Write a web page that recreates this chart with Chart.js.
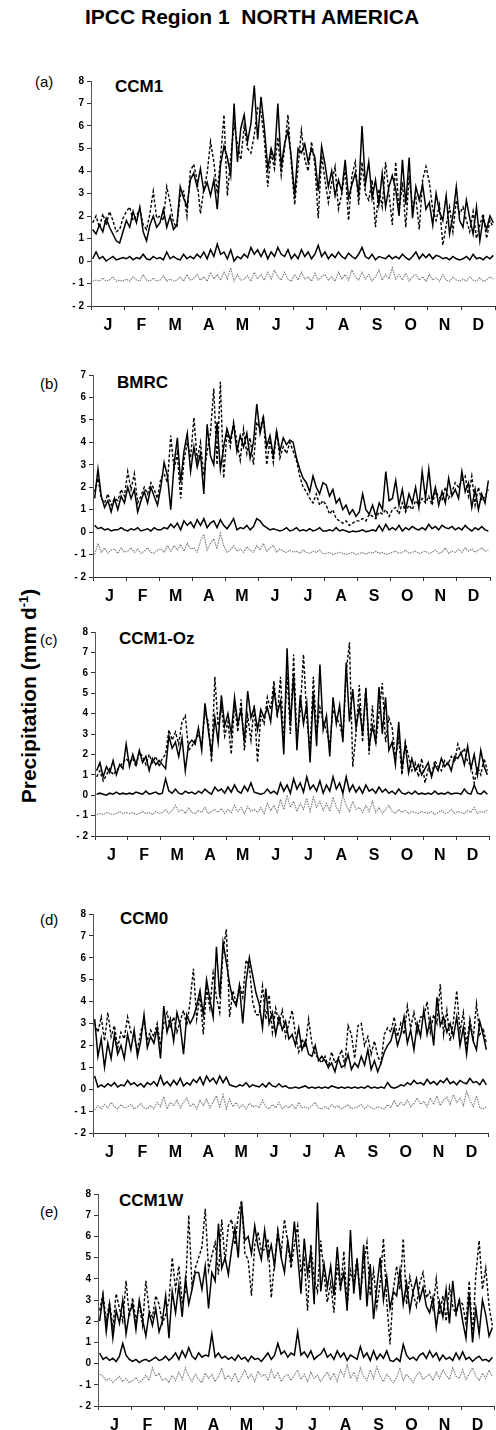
<!DOCTYPE html>
<html>
<head>
<meta charset="utf-8">
<script src="https://cdn.jsdelivr.net/npm/chart.js@4.4.1/dist/chart.umd.min.js"></script>
<style>
body{margin:0;background:#fff;width:496px;height:1430px;position:relative;overflow:hidden;font-family:"Liberation Sans",Arial,sans-serif;}
.t{position:absolute;white-space:nowrap;color:#000;line-height:1;}
.lt{font-size:15px;}
.nm{font-size:17px;font-weight:bold;}
#title{left:85px;top:6px;font-size:21px;font-weight:bold;}
#ytitle{left:-97px;top:685px;width:250px;text-align:center;font-size:21px;font-weight:bold;transform:rotate(-90deg);}
#ytitle sup{font-size:13px;}
canvas{position:absolute;}
</style>
</head>
<body>
<div class="t" id="title">IPCC Region 1&nbsp; NORTH AMERICA</div>
<div class="t" id="ytitle">Precipitation (mm d<sup>-1</sup>)</div>

<div class="t lt" style="left:35px;top:74px">(a)</div>
<div class="t nm" style="left:115px;top:78px">CCM1</div>
<div class="t lt" style="left:40px;top:376px">(b)</div>
<div class="t nm" style="left:117px;top:374px">BMRC</div>
<div class="t lt" style="left:40px;top:632px">(c)</div>
<div class="t nm" style="left:119px;top:630px">CCM1-Oz</div>
<div class="t lt" style="left:40px;top:912px">(d)</div>
<div class="t nm" style="left:120px;top:910px">CCM0</div>
<div class="t lt" style="left:40px;top:1204px">(e)</div>
<div class="t nm" style="left:119px;top:1192px">CCM1W</div>

<canvas id="pa"></canvas>
<canvas id="pb"></canvas>
<canvas id="pc"></canvas>
<canvas id="pd"></canvas>
<canvas id="pe"></canvas>

<script>
// month labels, 10 readings per month (every ~3 days)
var months = ['J','F','M','A','M','J','J','A','S','O','N','D'];
var perMonth = 10;

// (a) CCM1
var ccm1Solid = [
 1.4,1.2,1.6,1.3,1.9,1.5,1.2,0.9,0.8,1.3,
 1.8,1.5,2.2,1.7,2.4,1.3,0.9,1.6,2.0,1.5,
 1.7,2.3,1.5,2.0,1.4,1.6,3.3,2.8,2.4,3.6,
 3.9,3.3,4.1,3.1,3.5,2.9,3.6,2.3,4.3,5.1,
 4.6,3.8,7.0,4.4,5.9,6.5,5.3,6.1,7.8,5.4,
 7.3,5.9,4.1,5.0,4.5,7.0,4.2,5.2,5.8,4.6,
 2.9,5.0,4.8,5.2,4.4,5.0,4.6,3.1,5.1,4.3,
 3.3,4.0,2.9,3.6,3.1,4.5,2.8,3.4,3.9,3.0,
 6.0,3.4,4.4,2.8,3.6,2.5,3.9,2.4,3.3,3.8,
 3.2,2.0,4.5,2.5,4.6,1.9,3.3,2.7,3.4,2.3,
 2.6,1.6,3.0,2.2,1.8,2.9,1.2,2.0,3.3,1.8,
 1.5,2.7,1.9,1.2,2.4,0.9,1.9,1.4,2.0,1.7];
var ccm1Dashed = [
 1.7,2.0,1.5,2.1,1.6,2.2,1.8,1.3,1.4,1.9,
 2.2,2.4,1.8,2.0,2.3,1.6,1.4,2.1,3.1,1.9,
 2.0,1.8,3.3,2.6,1.7,1.5,2.9,3.1,2.0,4.0,
 4.3,3.6,2.1,3.2,3.9,5.3,4.4,3.0,4.6,6.5,
 2.9,4.6,6.1,5.2,4.5,6.0,5.0,4.8,5.6,6.8,
 6.6,5.4,3.3,4.8,4.1,5.5,3.8,5.0,6.5,4.3,
 2.5,4.2,5.8,4.5,4.0,5.3,4.3,1.9,4.7,3.6,
 2.6,3.5,4.2,2.3,3.0,4.1,1.8,3.8,4.4,2.5,
 4.4,3.0,2.7,3.6,1.5,3.2,2.4,4.4,3.0,1.6,
 4.4,2.2,3.5,1.5,3.8,2.4,2.8,1.4,3.6,4.2,
 3.5,2.3,1.8,2.5,0.7,1.6,2.4,1.3,2.7,2.1,
 2.4,1.8,1.3,2.2,1.0,1.6,2.1,1.0,1.8,1.5];
var ccm1Low = [
 0.1,0.4,0.1,0.2,0.0,0.1,0.2,0.05,0.1,0.15,
 0.1,0.2,0.05,0.15,0.1,0.3,0.1,0.05,0.2,0.1,
 0.15,0.05,0.4,0.1,0.2,0.1,0.05,0.3,0.1,0.2,
 0.1,0.3,0.15,0.4,0.1,0.5,0.2,0.75,0.3,0.4,
 0.1,0.5,0.0,0.2,0.1,0.3,0.15,0.6,0.3,0.5,
 0.2,0.5,0.1,0.4,0.2,0.6,0.3,0.2,0.5,0.1,
 0.3,0.1,0.5,0.2,0.4,0.1,0.3,0.7,0.2,0.4,
 0.1,0.3,0.15,0.4,0.2,0.1,0.35,0.2,0.1,0.3,
 0.6,0.2,0.1,0.3,0.05,0.2,0.15,0.1,0.25,0.1,
 0.2,0.1,0.3,0.15,0.05,0.2,0.4,0.1,0.3,0.15,
 0.3,0.1,0.25,0.2,0.1,0.15,0.05,0.2,0.1,0.05,
 0.1,0.2,0.05,0.3,0.1,0.15,0.05,0.2,0.1,0.25];
var ccm1Gray = [
 -0.9,-0.85,-0.9,-0.75,-0.9,-0.85,-0.7,-0.9,-0.85,-0.9,
 -0.8,-0.9,-0.7,-0.85,-0.9,-0.6,-0.85,-0.9,-0.75,-0.9,
 -0.85,-0.65,-0.9,-0.8,-0.9,-0.85,-0.7,-0.9,-0.6,-0.85,
 -0.8,-0.6,-0.85,-0.7,-0.9,-0.5,-0.8,-0.6,-0.85,-0.5,
 -0.8,-0.3,-0.9,-0.6,-0.85,-0.8,-0.65,-0.9,-0.5,-0.8,
 -0.6,-0.85,-0.5,-0.8,-0.4,-0.7,-0.85,-0.5,-0.8,-0.9,
 -0.6,-0.85,-0.5,-0.8,-0.7,-0.9,-0.55,-0.85,-0.7,-0.6,
 -0.85,-0.7,-0.9,-0.5,-0.8,-0.6,-0.85,-0.4,-0.7,-0.85,
 -0.5,-0.8,-0.6,-0.9,-0.7,-0.4,-0.85,-0.6,-0.8,-0.3,
 -0.8,-0.6,-0.85,-0.55,-0.9,-0.7,-0.6,-0.85,-0.7,-0.9,
 -0.6,-0.85,-0.75,-0.9,-0.6,-0.85,-0.9,-0.7,-0.85,-0.9,
 -0.8,-0.9,-0.7,-0.85,-0.9,-0.75,-0.9,-0.85,-0.7,-0.8];

// (b) BMRC
var bmrcSolid = [
 1.5,2.8,1.6,1.1,1.4,0.9,1.5,1.0,1.6,1.3,
 2.0,1.5,1.9,0.9,1.4,1.8,1.3,2.0,1.6,1.2,
 2.0,3.1,2.5,1.0,3.0,4.2,2.2,3.6,4.4,2.7,
 3.8,2.9,3.5,1.7,4.8,3.4,3.0,4.9,2.8,3.8,
 4.6,4.1,4.8,3.6,4.3,3.8,4.4,3.3,4.0,5.7,
 4.4,5.1,3.8,4.3,3.4,4.5,3.6,4.2,3.9,4.1,
 4.0,3.3,2.8,2.4,2.2,1.8,2.5,2.0,1.7,2.2,
 2.1,1.6,1.9,1.3,1.5,1.0,1.2,0.8,1.0,0.7,
 0.9,1.7,1.0,0.8,1.2,0.7,1.3,1.0,2.7,1.4,
 1.5,2.3,1.2,1.9,1.0,1.7,1.3,2.0,1.1,2.7,
 1.5,2.8,1.4,2.0,1.2,1.8,1.3,2.4,1.6,1.9,
 1.5,2.7,1.8,2.2,1.1,1.9,1.0,1.7,1.3,2.3];
var bmrcDashed = [
 1.8,2.4,1.5,1.3,1.7,1.2,1.5,1.4,1.9,1.6,
 2.7,1.9,2.6,1.3,1.6,2.0,1.7,2.2,1.9,1.5,
 2.4,2.6,2.2,4.3,2.8,3.5,1.5,3.2,4.0,3.3,
 5.1,3.2,4.0,2.5,3.6,4.4,6.4,3.0,6.7,2.4,
 4.5,3.8,4.9,4.0,3.2,4.6,3.5,4.2,3.0,4.9,
 4.6,5.2,3.0,4.1,3.1,4.5,3.3,3.8,3.5,4.0,
 3.6,3.2,2.5,2.0,1.8,1.5,1.3,1.7,1.2,1.4,
 1.2,0.8,1.0,0.6,0.5,0.4,0.5,0.3,0.4,0.5,
 0.5,0.6,0.5,0.8,0.7,0.6,0.9,0.8,1.0,0.7,
 1.0,1.1,0.8,1.3,0.9,1.2,1.0,1.4,1.2,1.5,
 1.3,1.6,1.2,1.8,1.6,1.4,2.0,1.5,1.8,2.2,
 2.0,2.3,2.5,1.6,2.5,1.2,2.0,1.4,1.6,1.9];
var bmrcLow = [
 0.3,0.15,0.2,0.1,0.15,0.05,0.1,0.1,0.2,0.1,
 0.05,0.15,0.1,0.2,0.05,0.1,0.15,0.05,0.2,0.1,
 0.1,0.2,0.15,0.35,0.2,0.4,0.1,0.5,0.3,0.45,
 0.2,0.55,0.3,0.6,0.2,0.4,0.5,0.2,0.55,0.3,
 0.15,0.35,0.6,0.1,0.2,0.15,0.3,0.1,0.25,0.6,
 0.5,0.3,0.2,0.1,0.15,0.1,0.05,0.1,0.2,0.05,
 0.1,0.2,0.05,0.1,0.05,0.15,0.05,0.1,0.2,0.05,
 0.05,0.1,0.05,0.2,0.05,0.1,0.05,0.0,0.05,0.02,
 0.05,0.1,0.02,0.05,0.1,0.05,0.3,0.05,0.35,0.1,
 0.2,0.1,0.3,0.05,0.2,0.1,0.25,0.15,0.1,0.2,
 0.1,0.35,0.15,0.25,0.1,0.3,0.2,0.15,0.25,0.1,
 0.2,0.1,0.3,0.15,0.05,0.2,0.1,0.25,0.1,0.05];
var bmrcGray = [
 -1.0,-0.5,-0.9,-0.7,-0.95,-0.8,-0.75,-0.95,-0.7,-0.9,
 -0.85,-0.7,-0.9,-0.75,-0.95,-0.85,-0.7,-0.9,-0.95,-0.8,
 -0.75,-0.9,-0.6,-0.85,-0.6,-0.8,-0.55,-0.85,-0.5,-0.75,
 -0.7,-0.9,-0.4,-0.1,-0.8,-0.5,-0.3,-0.75,-0.05,-0.6,
 -0.9,-0.8,-0.6,-0.85,-0.75,-0.9,-0.65,-0.8,-0.9,-0.6,
 -0.8,-0.5,-0.85,-0.7,-0.6,-0.9,-0.75,-0.85,-0.9,-0.8,
 -0.9,-0.85,-0.95,-0.8,-0.9,-0.95,-0.85,-0.9,-0.8,-0.95,
 -0.95,-0.9,-1.0,-0.95,-0.9,-0.95,-1.0,-0.95,-0.9,-1.0,
 -0.95,-0.9,-1.0,-0.9,-0.95,-0.85,-0.95,-0.9,-1.0,-0.95,
 -0.9,-0.85,-0.95,-0.9,-0.8,-0.95,-0.9,-0.85,-0.95,-0.9,
 -0.85,-0.95,-0.9,-0.8,-0.95,-0.9,-0.7,-0.95,-0.85,-0.9,
 -0.75,-0.9,-0.7,-0.85,-0.75,-0.9,-0.8,-0.7,-0.85,-0.8];

// (c) CCM1-Oz
var ozSolid = [
 1.2,1.6,0.9,1.4,1.1,1.7,1.0,1.5,1.3,2.5,
 1.4,2.0,1.5,2.2,1.6,1.9,1.2,1.8,1.5,1.7,
 1.5,1.3,2.9,2.3,2.6,1.9,2.8,1.2,2.5,2.7,
 2.5,3.3,2.2,4.5,3.2,2.0,3.8,2.6,4.9,3.4,
 4.0,3.0,4.8,3.5,4.2,2.6,5.1,3.8,4.3,3.2,
 4.2,3.8,4.3,3.6,5.2,4.0,4.6,2.0,7.2,3.4,
 5.9,2.2,4.9,3.5,4.5,1.6,5.0,2.4,6.4,3.2,
 3.9,1.9,4.8,3.5,4.4,2.6,6.5,3.6,5.2,3.3,
 4.3,3.0,5.2,2.4,3.4,2.6,5.3,3.0,4.8,2.2,
 2.6,1.5,3.6,1.3,2.5,1.1,1.8,1.2,1.5,1.0,
 1.3,1.6,0.9,1.5,1.2,1.8,1.4,1.6,1.2,1.9,
 1.8,2.1,1.5,2.4,1.3,2.0,1.0,2.2,1.4,1.0];
var ozDashed = [
 0.9,1.2,0.7,1.0,1.3,1.0,1.2,1.4,1.6,1.8,
 1.6,1.8,1.4,2.1,1.9,1.5,2.0,1.6,1.9,1.4,
 1.8,2.0,3.2,2.7,3.1,2.5,3.6,3.9,2.2,2.4,
 2.7,3.0,2.5,4.1,3.6,1.6,5.8,3.4,4.3,2.9,
 3.6,2.0,4.5,3.1,4.7,2.2,3.9,2.7,4.4,1.6,
 3.9,3.5,4.8,4.2,5.6,3.8,5.8,2.6,6.0,3.0,
 6.9,2.7,4.1,6.9,3.8,2.1,5.8,3.0,4.3,3.6,
 3.2,2.5,4.2,3.8,3.5,2.8,6.0,7.5,1.4,3.0,
 5.4,2.6,5.3,2.0,4.4,2.5,4.0,5.5,2.6,3.8,
 3.3,1.8,2.8,1.0,2.6,1.9,1.2,1.6,0.9,1.8,
 0.6,1.3,1.0,1.7,1.4,1.2,1.7,1.5,1.9,1.6,
 2.5,2.0,2.3,1.6,1.5,0.6,1.4,1.0,1.8,1.2];
var ozLow = [
 0.05,0.1,0.05,0.0,0.1,0.05,0.15,0.05,0.1,0.05,
 0.1,0.05,0.15,0.1,0.05,0.2,0.05,0.1,0.15,0.05,
 0.1,0.8,0.2,0.1,0.3,0.1,0.05,0.2,0.1,0.15,
 0.05,0.2,0.1,0.3,0.15,0.05,0.4,0.2,0.3,0.1,
 0.4,0.15,0.5,0.2,0.1,0.45,0.2,0.6,0.15,0.1,
 0.05,0.1,0.3,0.1,0.2,0.05,0.6,0.2,0.5,0.1,
 0.8,0.3,0.6,0.15,0.9,0.3,0.5,0.2,0.7,0.1,
 0.5,0.2,0.9,0.3,0.6,0.1,0.9,0.2,0.5,0.15,
 0.4,0.1,0.5,0.2,0.3,0.1,0.4,0.15,0.3,0.1,
 0.2,0.05,0.3,0.1,0.05,0.15,0.05,0.2,0.05,0.1,
 0.05,0.1,0.05,0.2,0.05,0.1,0.05,0.15,0.05,0.1,
 0.1,0.05,0.3,0.1,0.05,0.5,0.1,0.05,0.2,0.05];
var ozGray = [
 -0.95,-0.9,-0.95,-0.85,-0.9,-0.95,-0.9,-0.8,-0.9,-0.85,
 -0.9,-0.85,-0.95,-0.9,-0.8,-0.9,-0.85,-0.95,-0.8,-0.9,
 -0.85,-0.7,-0.9,-0.75,-0.5,-0.8,-0.7,-0.9,-0.6,-0.85,
 -0.9,-0.75,-0.85,-0.6,-0.9,-0.8,-0.7,-0.85,-0.65,-0.9,
 -0.7,-0.85,-0.5,-0.8,-0.6,-0.9,-0.55,-0.8,-0.7,-0.85,
 -0.6,-0.9,-0.4,-0.75,-0.5,-0.85,-0.2,-0.7,0.0,-0.6,
 -0.3,-0.8,-0.4,-0.7,-0.15,-0.8,-0.1,-0.6,-0.3,-0.75,
 -0.4,-0.8,-0.1,-0.6,-0.85,0.0,-0.5,-0.8,-0.3,-0.7,
 -0.6,-0.85,-0.5,-0.8,-0.3,-0.85,-0.6,-0.9,-0.7,-0.5,
 -0.8,-0.9,-0.7,-0.85,-0.75,-0.9,-0.8,-0.85,-0.9,-0.8,
 -0.85,-0.9,-0.8,-0.95,-0.85,-0.75,-0.9,-0.85,-0.7,-0.9,
 -0.8,-0.85,-0.9,-0.75,-0.85,-0.6,-0.9,-0.8,-0.85,-0.7];

// (d) CCM0
var ccm0Solid = [
 3.2,1.5,2.3,1.0,2.1,1.4,2.5,1.6,2.0,1.4,
 2.5,1.8,2.7,1.5,2.2,3.4,1.9,2.4,2.1,2.8,
 1.4,3.8,2.6,3.2,2.2,3.5,2.9,1.6,3.4,3.0,
 3.3,3.8,4.5,3.4,5.0,4.1,3.3,6.5,4.2,6.7,
 5.8,4.8,4.1,3.8,4.7,3.0,4.9,6.0,5.2,4.4,
 3.9,2.8,4.6,3.0,3.5,2.5,3.3,2.7,3.1,2.3,
 2.5,2.0,2.8,1.8,2.2,1.6,1.5,2.0,1.3,1.5,
 1.3,1.0,1.2,0.8,1.4,1.0,1.1,1.6,0.9,1.2,
 1.0,1.5,1.1,1.8,0.9,1.3,0.8,1.2,1.7,2.0,
 2.2,2.8,2.0,2.5,3.3,2.1,2.7,1.8,3.0,2.4,
 3.6,2.5,3.2,2.0,4.2,2.9,3.3,2.6,3.0,2.4,
 3.3,2.0,2.8,1.6,3.0,2.2,1.8,3.1,2.5,1.8];
var ccm0Dashed = [
 3.0,2.6,3.3,2.2,3.5,2.4,2.9,1.9,2.6,2.3,
 3.3,2.6,2.4,1.8,2.6,3.2,2.2,2.7,2.4,3.0,
 2.0,3.0,3.5,2.8,3.3,2.6,3.1,3.6,2.9,4.0,
 5.5,3.2,4.3,2.5,4.6,3.7,5.3,4.2,3.5,6.3,
 7.3,3.3,4.5,3.9,4.8,4.2,5.9,5.6,4.0,3.4,
 3.4,4.7,3.2,4.3,2.6,3.7,3.0,3.6,2.4,3.0,
 3.6,2.5,1.7,2.3,1.9,3.2,2.1,1.6,1.4,1.2,
 1.5,1.0,1.7,1.2,1.4,1.8,1.1,2.9,2.5,1.4,
 2.9,3.0,2.0,2.4,1.6,2.2,1.5,1.2,2.5,2.8,
 2.6,3.3,2.4,3.0,2.5,3.8,2.8,3.5,2.6,3.3,
 3.3,4.0,2.6,3.4,3.0,4.8,2.5,3.6,2.2,3.1,
 4.5,2.6,3.5,2.0,3.2,2.3,3.9,2.5,2.8,2.1];
var ccm0Low = [
 0.6,0.1,0.2,0.1,0.25,0.15,0.3,0.1,0.2,0.15,
 0.4,0.2,0.3,0.15,0.25,0.1,0.3,0.2,0.35,0.15,
 0.6,0.2,0.35,0.15,0.4,0.2,0.5,0.15,0.3,0.2,
 0.45,0.3,0.55,0.2,0.6,0.35,0.5,0.25,0.6,0.3,
 0.55,0.2,0.15,0.1,0.2,0.15,0.3,0.1,0.2,0.15,
 0.1,0.25,0.1,0.3,0.15,0.1,0.25,0.1,0.15,0.05,
 0.05,0.1,0.05,0.1,0.15,0.05,0.1,0.05,0.1,0.05,
 0.1,0.05,0.15,0.1,0.05,0.1,0.05,0.1,0.05,0.1,
 0.05,0.1,0.05,0.15,0.05,0.1,0.05,0.1,0.05,0.3,
 0.1,0.05,0.1,0.2,0.15,0.3,0.2,0.4,0.25,0.3,
 0.2,0.45,0.25,0.35,0.2,0.4,0.3,0.5,0.25,0.35,
 0.2,0.4,0.3,0.25,0.5,0.3,0.35,0.2,0.45,0.2];
var ccm0Gray = [
 -0.95,-0.75,-0.9,-0.7,-0.85,-0.6,-0.8,-0.9,-0.7,-0.85,
 -0.8,-0.7,-0.9,-0.8,-0.65,-0.85,-0.9,-0.75,-0.9,-0.6,
 -0.8,-0.35,-0.9,-0.6,-0.75,-0.5,-0.85,-0.6,-0.4,-0.8,
 -0.65,-0.9,-0.5,-0.75,-0.45,-0.85,-0.6,-0.3,-0.8,-0.25,
 -0.9,-0.45,-0.8,-0.6,-0.85,-0.7,-0.9,-0.65,-0.8,-0.75,
 -0.85,-0.5,-0.8,-0.9,-0.7,-0.85,-0.6,-0.9,-0.75,-0.85,
 -0.7,-0.9,-0.6,-0.85,-0.8,-0.9,-0.75,-0.6,-0.85,-0.9,
 -0.8,-0.9,-0.7,-0.85,-0.75,-0.9,-0.8,-0.7,-0.9,-0.85,
 -0.8,-0.7,-0.9,-0.75,-0.85,-0.9,-0.8,-0.85,-0.9,-0.7,
 -0.85,-0.5,-0.8,-0.6,-0.75,-0.5,-0.8,-0.65,-0.4,-0.7,
 -0.55,-0.8,-0.4,-0.7,-0.3,-0.75,-0.5,-0.35,-0.7,-0.25,
 -0.6,-0.4,-0.75,-0.1,-0.5,-0.8,-0.3,-0.85,-0.9,-0.8];

// (e) CCM1W
var ccm1wSolid = [
 2.0,3.2,1.5,2.8,1.2,2.5,1.9,3.0,1.4,2.4,
 2.8,1.6,3.0,2.1,1.3,2.4,1.8,2.6,1.5,2.0,
 3.2,1.2,3.4,2.4,3.7,2.2,4.0,2.8,3.5,4.3,
 4.3,3.5,4.6,2.6,4.3,3.9,6.6,4.5,5.0,4.2,
 5.4,6.4,5.0,7.6,5.8,6.0,5.2,6.5,5.5,4.9,
 6.3,5.0,5.6,4.6,6.2,5.0,4.3,5.8,4.8,6.7,
 5.1,3.3,5.9,4.2,5.3,2.8,7.6,3.4,4.7,3.6,
 4.6,3.2,5.5,3.6,4.3,2.5,6.3,3.3,4.9,3.0,
 5.6,2.7,4.7,2.1,3.6,5.0,3.0,4.1,2.6,3.4,
 3.2,4.4,2.8,3.8,2.5,3.4,4.0,3.0,3.6,2.7,
 2.4,3.1,1.7,2.9,2.2,3.5,1.9,3.9,2.4,3.0,
 2.0,1.2,3.3,1.0,2.6,1.4,3.0,2.3,1.3,1.7];
var ccm1wDashed = [
 2.5,3.3,2.0,2.9,1.7,3.3,2.6,2.0,3.9,2.2,
 3.1,2.0,2.8,1.8,3.9,2.5,2.2,3.2,2.8,1.9,
 2.3,3.0,5.0,3.5,4.6,2.9,3.4,7.0,3.6,4.5,
 5.0,5.5,7.3,4.4,5.1,5.7,4.2,6.8,4.8,6.5,
 6.8,5.6,7.0,7.7,5.2,4.9,3.2,5.6,6.2,5.3,
 5.4,5.9,3.1,4.8,6.3,5.2,6.8,5.7,4.5,5.6,
 6.5,4.3,4.9,2.5,5.6,4.0,3.4,5.8,4.2,2.9,
 3.8,2.4,4.7,3.4,5.3,2.7,4.4,3.8,5.0,3.2,
 4.6,5.7,3.2,4.4,2.7,3.8,5.9,2.9,0.9,3.5,
 4.6,3.5,5.9,2.8,4.1,3.3,2.7,3.8,4.3,3.1,
 3.4,2.6,4.0,2.3,3.2,2.0,3.6,2.7,2.3,3.0,
 2.8,1.9,3.9,1.3,4.2,5.8,3.5,4.5,2.7,1.8];
var ccm1wLow = [
 0.5,0.2,0.3,0.15,0.25,0.1,0.35,0.95,0.4,0.2,
 0.1,0.2,0.05,0.15,0.2,0.1,0.2,0.3,0.15,0.2,
 0.35,0.15,0.3,0.5,0.2,0.6,0.3,0.75,0.35,0.2,
 0.5,0.3,0.4,0.35,1.4,0.3,0.5,0.25,0.35,0.2,
 0.3,0.15,0.4,0.2,0.3,0.1,0.35,0.2,0.25,0.1,
 0.3,0.5,0.2,0.4,0.95,0.45,0.6,0.3,0.5,0.4,
 1.5,0.4,0.55,0.3,0.6,0.2,0.35,0.45,0.7,0.3,
 0.45,0.2,0.6,0.3,0.5,0.15,0.4,0.3,0.2,0.8,
 0.3,0.5,0.15,0.6,0.2,0.45,0.25,0.6,0.15,0.1,
 0.25,0.1,0.9,0.4,0.2,0.3,0.15,0.4,0.5,0.25,
 0.6,0.3,0.5,0.15,0.4,0.2,0.3,0.15,0.5,0.2,
 0.55,0.2,0.3,0.1,0.25,0.35,0.15,0.2,0.1,0.3];
var ccm1wGray = [
 -0.5,-0.6,-0.8,-0.7,-0.9,-0.75,-0.6,-0.85,-0.7,-0.9,
 -0.8,-0.65,-0.9,-0.75,-0.55,-0.8,-0.2,-0.6,-0.45,-0.8,
 -0.7,-0.9,-0.55,-0.8,-0.4,-0.75,-0.2,-0.6,-0.85,-0.5,
 -0.75,-0.9,-0.45,-0.7,-0.5,-0.85,-0.6,-0.2,-0.75,-0.55,
 -0.8,-0.45,-0.9,-0.6,-0.3,-0.7,-0.5,-0.85,-0.35,-0.6,
 -0.5,-0.8,-0.3,-0.7,-0.4,-0.85,-0.6,-0.5,-0.8,-0.55,
 -0.3,-0.75,-0.5,-0.85,-0.4,-0.7,-0.55,-0.85,-0.6,-0.4,
 -0.75,-0.45,-0.85,-0.3,-0.6,-0.05,-0.7,-0.4,-0.8,-0.2,
 -0.6,-0.8,-0.3,-0.7,-0.15,-0.6,-0.85,-0.5,-0.7,-0.9,
 -0.65,-0.2,-0.8,-0.5,-0.7,-0.9,-0.55,-0.4,-0.75,-0.6,
 -0.5,-0.8,-0.4,-0.7,-0.3,-0.55,-0.75,-0.2,-0.6,-0.7,
 -0.3,-0.75,-0.5,-0.2,-0.6,-0.8,-0.45,-0.7,-0.3,-0.6];

Chart.defaults.font.family = '"Liberation Sans", Arial, sans-serif';
Chart.defaults.color = '#000';

var axisW = 34, padTop = 8, tickH = 2, labH = 22;

function pts(arr) {
  return arr.map(function (v, i) { return { x: (i + 0.5) / perMonth, y: v }; });
}

function makePanel(id, box, yMax, solid, dashed, low, gray) {
  var cv = document.getElementById(id);
  var w = box.R - box.L + axisW + 4;
  var h = box.B - box.T + padTop + tickH + labH;
  cv.width = w; cv.height = h;
  cv.style.left = (box.L - axisW) + 'px';
  cv.style.top = (box.T - padTop) + 'px';
  cv.style.width = w + 'px';
  cv.style.height = h + 'px';

  new Chart(cv, {
    type: 'line',
    data: {
      datasets: [
        { data: pts(solid), borderColor: '#000', borderWidth: 1.5, order: 1 },
        { data: pts(dashed), borderColor: '#000', borderWidth: 1.4, borderDash: [3, 2], order: 2 },
        { data: pts(low), borderColor: '#000', borderWidth: 1.5, order: 3 },
        { data: pts(gray), borderColor: '#7a7a7a', borderWidth: 1.1, borderDash: [1.5, 1], order: 4 }
      ]
    },
    options: {
      responsive: false,
      animation: false,
      devicePixelRatio: 1,
      layout: { padding: { top: padTop, right: 4, left: 0, bottom: 0 } },
      elements: { point: { radius: 0 }, line: { tension: 0 } },
      plugins: { legend: { display: false }, tooltip: { enabled: false } },
      scales: {
        x: {
          type: 'linear', min: 0, max: 12,
          afterBuildTicks: function (s) { s.ticks = months.map(function (m, i) { return { value: i }; }).concat([{ value: 12 }]); },
          afterFit: function (s) { s.height = tickH; },
          ticks: { display: false },
          grid: { drawOnChartArea: false, drawTicks: true, tickLength: 4, color: '#333' },
          border: { display: true, color: '#333', width: 1 }
        },
        x2: {
          type: 'linear', position: 'bottom', min: 0, max: 12,
          afterBuildTicks: function (s) { s.ticks = months.map(function (m, i) { return { value: i + 0.5 }; }); },
          afterFit: function (s) { s.height = labH; },
          ticks: {
            autoSkip: false, maxRotation: 0, padding: 0,
            font: { size: 16, weight: 'bold' },
            callback: function (v, i) { return months[i]; }
          },
          grid: { display: false },
          border: { display: false }
        },
        y: {
          min: -2, max: yMax,
          afterFit: function (s) { s.width = axisW; },
          ticks: {
            stepSize: 1, padding: 3,
            font: { size: 10, weight: 'bold' },
            callback: function (v) { return v < 0 ? '- ' + Math.abs(v) : '' + v; }
          },
          grid: { drawOnChartArea: false, drawTicks: true, tickLength: 4, color: '#333' },
          border: { display: true, color: '#555', width: 1 }
        }
      }
    }
  });
}

makePanel('pa', { L: 91, T: 80, R: 495, B: 306 }, 8, ccm1Solid, ccm1Dashed, ccm1Low, ccm1Gray);
makePanel('pb', { L: 93, T: 374, R: 490, B: 577 }, 7, bmrcSolid, bmrcDashed, bmrcLow, bmrcGray);
makePanel('pc', { L: 95, T: 631, R: 489, B: 836 }, 8, ozSolid, ozDashed, ozLow, ozGray);
makePanel('pd', { L: 93, T: 913, R: 488, B: 1133 }, 8, ccm0Solid, ccm0Dashed, ccm0Low, ccm0Gray);
makePanel('pe', { L: 98, T: 1193, R: 494, B: 1406 }, 8, ccm1wSolid, ccm1wDashed, ccm1wLow, ccm1wGray);
</script>
</body>
</html>
